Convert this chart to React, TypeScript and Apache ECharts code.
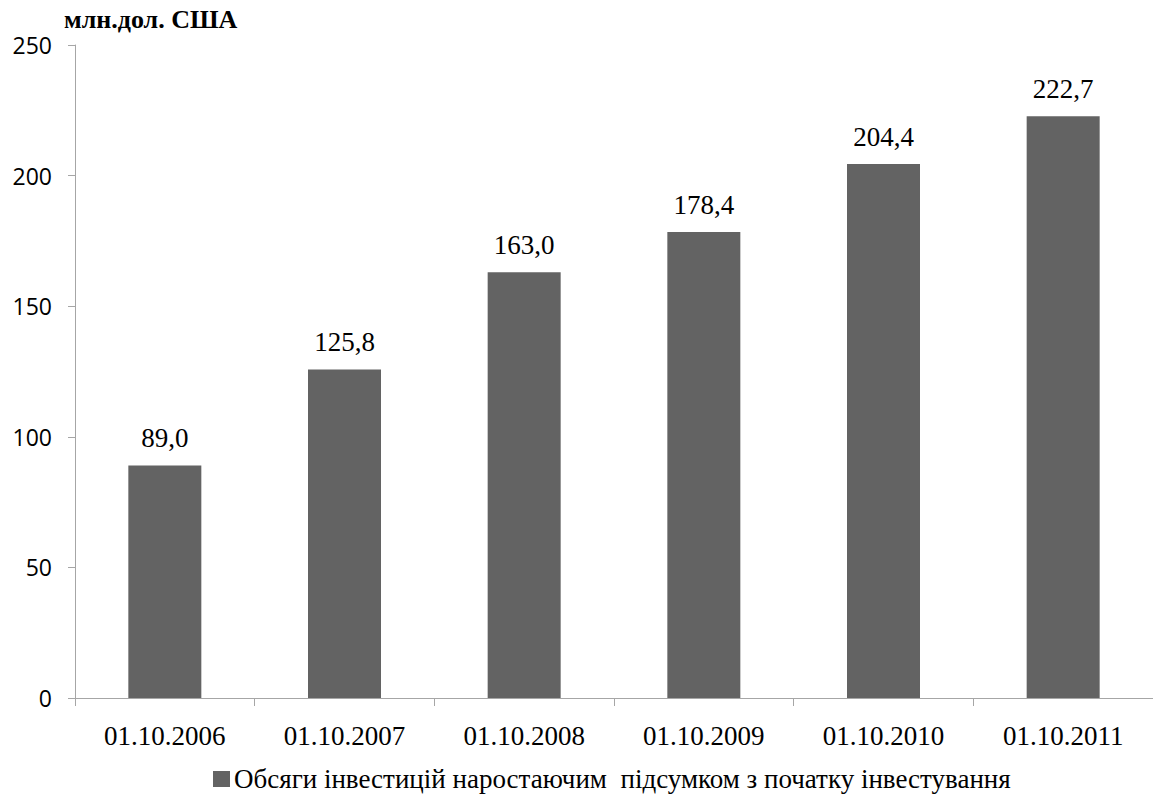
import React, { useEffect, useRef } from "react";
import * as echarts from "echarts";

const categories = ["01.10.2006", "01.10.2007", "01.10.2008", "01.10.2009", "01.10.2010", "01.10.2011"];
const values = [89.0, 125.8, 163.0, 178.4, 204.4, 222.7];
const seriesName = "Обсяги інвестицій наростаючим  підсумком з початку інвестування";
const unitLabel = "млн.дол. США";

const SERIF = "Liberation Serif";

export default function App() {
  const ref = useRef<HTMLDivElement>(null);
  useEffect(() => {
    if (!ref.current) return;
    const chart = echarts.init(ref.current, null, { renderer: "svg" });
    chart.setOption({
      animation: false,
      backgroundColor: "#ffffff",
      title: {
        text: unitLabel,
        left: 64,
        top: 6,
        padding: 0,
        textStyle: { fontFamily: SERIF, fontWeight: "bold", fontSize: 26, color: "#000" },
      },
      legend: {
        top: 765,
        left: 213,
        padding: 0,
        itemWidth: 17,
        itemHeight: 16,
        itemGap: 4,
        icon: "rect",
        textStyle: { fontFamily: SERIF, fontSize: 27, lineHeight: 28, color: "#000", padding: [0, 0, 0, -1] },
        data: [seriesName],
      },
      grid: { left: 75, top: 45, width: 1085, height: 653, containLabel: false },
      xAxis: {
        type: "category",
        data: categories,
        axisLine: { show: true, lineStyle: { color: "#a6a6a6", width: 1 } },
        axisTick: { show: true, alignWithLabel: false, length: 8, lineStyle: { color: "#a6a6a6" } },
        axisLabel: { margin: 24, fontFamily: SERIF, fontSize: 27, color: "#000" },
      },
      yAxis: {
        type: "value",
        min: 0,
        max: 250,
        interval: 50,
        splitLine: { show: false },
        axisLine: { show: true, lineStyle: { color: "#a6a6a6", width: 1 } },
        axisTick: { show: true, length: 7, lineStyle: { color: "#a6a6a6" } },
        axisLabel: { margin: 23, fontFamily: "Open Sans", fontSize: 23, color: "#000" },
      },
      series: [
        {
          name: seriesName,
          type: "bar",
          data: values,
          barWidth: 73,
          itemStyle: { color: "#636363" },
          label: {
            show: true,
            position: "top",
            distance: 14,
            formatter: (p: any) => p.value.toFixed(1).replace(".", ","),
            fontFamily: SERIF,
            fontSize: 27,
            color: "#000",
          },
        },
      ],
    });
    return () => chart.dispose();
  }, []);
  return <div ref={ref} style={{ position: "fixed", left: 0, top: 0, width: 1153, height: 798 }} />;
}
